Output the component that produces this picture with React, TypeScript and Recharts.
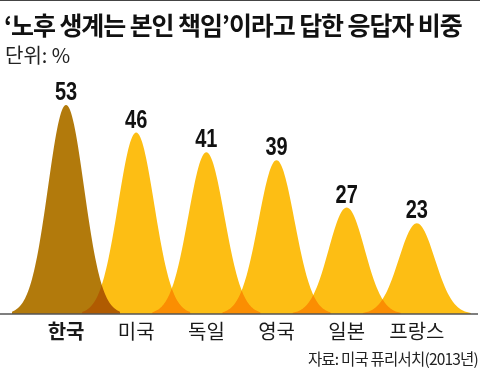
import React from "react";
import { BarChart, Bar, XAxis, YAxis, Cell, LabelList } from "recharts";

const countries = ["한국", "미국", "독일", "영국", "일본", "프랑스"];
const shares = [53, 46, 41, 39, 27, 23];

const data = countries.map((name, i) => ({ name, value: shares[i] }));

const KOREA = "#B27A0C";
const OTHERS = "#FDBE14";
const CJK = '"Noto Sans CJK KR", "Noto Sans", sans-serif';
const NUM = '"Liberation Sans", Arial, sans-serif';

// bell shaped peak, drawn around the bar centre
const Bell = (props: any) => {
  const { x, y, width, height, fill } = props;
  const cx = x + width / 2;
  const base = y + height;
  const sigma = 18;
  const half = 54;
  let d = `M${cx - half},${base}`;
  for (let dx = -half; dx <= half; dx += 1) {
    const yy = base - height * Math.exp(-(dx * dx) / (2 * sigma * sigma));
    d += ` L${cx + dx},${yy}`;
  }
  d += ` L${cx + half},${base} Z`;
  return <path d={d} fill={fill} style={{ mixBlendMode: "multiply" }} />;
};

// condensed bold number over each peak
const PeakLabel = (props: any) => {
  const { x, y, width, value } = props;
  return (
    <text
      transform={`translate(${x + width / 2},${y - 5}) scale(0.8,1)`}
      textAnchor="middle"
      fontFamily={NUM}
      fontWeight={700}
      fontSize={25}
      fill="#111"
    >
      {value}
    </text>
  );
};

const CountryTick = (props: any) => {
  const { x, y, payload } = props;
  const bold = payload.value === "한국";
  return (
    <text
      x={x}
      y={y + 17}
      textAnchor="middle"
      fontFamily={CJK}
      fontWeight={bold ? 700 : 400}
      fontSize={20}
      fill="#1a1a1a"
    >
      {payload.value}
    </text>
  );
};

export default function App() {
  return (
    <div
      style={{
        position: "absolute",
        left: 0,
        top: 0,
        width: 480,
        height: 369,
        background: "#fff",
        overflow: "hidden",
      }}
    >
      <div style={{ position: "absolute", left: 0, top: 0, width: 480, height: 1, background: "#444" }} />
      <div
        style={{
          position: "absolute",
          left: 4,
          top: 9,
          fontFamily: CJK,
          fontWeight: 700,
          fontSize: 25,
          lineHeight: "30px",
          letterSpacing: -1.1,
          color: "#111",
          whiteSpace: "nowrap",
        }}
      >
        ‘노후 생계는 본인 책임’이라고 답한 응답자 비중
      </div>
      <div
        style={{
          position: "absolute",
          left: 5,
          top: 43,
          fontFamily: CJK,
          fontSize: 20,
          lineHeight: "24px",
          color: "#222",
          whiteSpace: "nowrap",
        }}
      >
        단위: %
      </div>
      <BarChart
        width={480}
        height={369}
        data={data}
        margin={{ top: 30, right: 2, bottom: 0, left: 0 }}
        style={{ position: "absolute", left: 0, top: 0 }}
      >
        <XAxis
          dataKey="name"
          tickLine={false}
          axisLine={{ stroke: "#555", strokeWidth: 1.5 }}
          padding={{ left: 31, right: 26 }}
          tick={<CountryTick />}
          interval={0}
          height={55}
        />
        <YAxis hide domain={[0, 72]} />
        <Bar dataKey="value" shape={<Bell />} isAnimationActive={false}>
          {data.map((d) => (
            <Cell key={d.name} fill={d.name === "한국" ? KOREA : OTHERS} />
          ))}
          <LabelList dataKey="value" content={<PeakLabel />} />
        </Bar>
      </BarChart>
      <div
        style={{
          position: "absolute",
          right: 2,
          top: 349,
          fontFamily: CJK,
          fontSize: 15.5,
          lineHeight: "18px",
          letterSpacing: -0.8,
          color: "#222",
          whiteSpace: "nowrap",
        }}
      >
        자료: 미국 퓨리서치(2013년)
      </div>
    </div>
  );
}
